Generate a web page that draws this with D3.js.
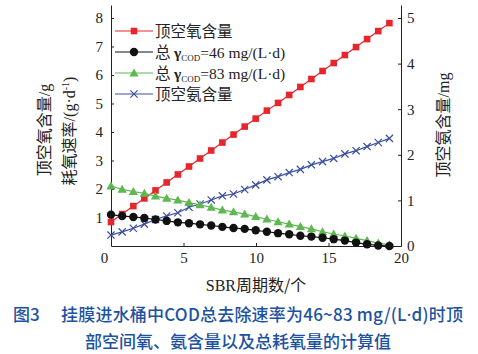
<!DOCTYPE html>
<html lang="zh">
<head>
<meta charset="UTF-8">
<title>SBR</title>
<script src="https://d3js.org/d3.v7.min.js"></script>
<style>
    body { margin: 0; background: #fff; }
    .tick text { font-family: "Liberation Serif", serif; font-size: 15px; fill: #222; }
    .cjk { font-family: "Noto Sans CJK SC", sans-serif; }
    .ser { font-family: "Liberation Serif", serif; }
</style>
</head>
<body>
<svg id="chart" width="478" height="354"></svg>
<script>
    // SBR cycle positions
    const cycles = [0, 0.77, 1.54, 2.30, 3.07, 3.84, 4.61, 5.38, 6.14, 6.91, 7.68, 8.45, 9.22,
        9.98, 10.75, 11.52, 12.29, 13.06, 13.82, 14.59, 15.36, 16.13, 16.90, 17.66, 18.43, 19.20];
    // left axis series (g, g/d)
    const oxygen = [0.84, 1.12, 1.40, 1.67, 1.95, 2.23, 2.51, 2.79, 3.07, 3.35, 3.63, 3.91, 4.19,
        4.47, 4.75, 5.02, 5.30, 5.58, 5.86, 6.14, 6.42, 6.70, 6.98, 7.26, 7.54, 7.82];
    const cod46 = [1.10, 1.05, 1.02, 0.98, 0.93, 0.88, 0.83, 0.80, 0.76, 0.72, 0.67, 0.63, 0.60,
        0.55, 0.50, 0.45, 0.41, 0.36, 0.33, 0.29, 0.24, 0.19, 0.12, 0.06, 0.02, 0.0];
    const cod83 = [2.10, 1.99, 1.91, 1.85, 1.75, 1.67, 1.61, 1.52, 1.44, 1.36, 1.26, 1.20, 1.12,
        1.03, 0.94, 0.85, 0.77, 0.68, 0.60, 0.50, 0.42, 0.35, 0.27, 0.19, 0.10, 0.04];
    // right axis series (mg)
    const ammonia = [0.24, 0.31, 0.39, 0.48, 0.58, 0.66, 0.73, 0.85, 0.92, 1.01, 1.10, 1.14, 1.24,
        1.34, 1.45, 1.52, 1.61, 1.68, 1.78, 1.85, 1.92, 2.02, 2.09, 2.18, 2.27, 2.36];

    const xTicks = [0, 5, 10, 15, 20];
    const yLeftTicks = [1, 2, 3, 4, 5, 6, 7, 8];
    const yRightTicks = [0, 1, 2, 3, 4, 5];

    const svg = d3.select("#chart");
    const mLeft = 111, mRight = 401, mTop = 5, mBottom = 246;

    const x = d3.scaleLinear().domain([0, 20]).range([mLeft, mRight]);
    const yL = d3.scaleLinear().domain([0, 8.456]).range([mBottom, mTop]);
    const yR = d3.scaleLinear().domain([0, 5.285]).range([mBottom, mTop]);

    // axes, ticks pointing inward
    const gx = svg.append("g").attr("transform", `translate(0,${mBottom})`)
        .call(d3.axisBottom(x).tickValues(xTicks).tickFormat(d3.format("d"))
            .tickSizeInner(-3).tickSizeOuter(0).tickPadding(6));
    gx.selectAll(".tick text").filter(d => d === 0).attr("dx", -7);

    svg.append("g").attr("transform", `translate(${mLeft},0)`)
        .call(d3.axisLeft(yL).tickValues(yLeftTicks).tickFormat(d3.format("d"))
            .tickSizeInner(-3).tickSizeOuter(0).tickPadding(8));
    svg.append("g").attr("transform", `translate(${mRight},0)`)
        .call(d3.axisRight(yR).tickValues(yRightTicks).tickFormat(d3.format("d"))
            .tickSizeInner(-3).tickSizeOuter(0).tickPadding(6));
    svg.selectAll(".domain, .tick line").attr("stroke", "#222").attr("stroke-width", 1);

    const series = [
        {vals: oxygen, y: yL, color: "#e6262b", sym: "square"},
        {vals: ammonia, y: yR, color: "#3c4f9e", sym: "cross"},
        {vals: cod83, y: yL, color: "#5cb84f", sym: "triangle"},
        {vals: cod46, y: yL, color: "#111111", sym: "circle"}
    ];

    function marker(g, sym, color) {
        if (sym === "square") g.append("rect").attr("x", -3.3).attr("y", -3.3).attr("width", 6.6).attr("height", 6.6).attr("fill", color);
        if (sym === "circle") g.append("circle").attr("r", 4.2).attr("fill", color);
        if (sym === "triangle") g.append("path").attr("d", "M0,-4.6L4.6,3.4L-4.6,3.4Z").attr("fill", color);
        if (sym === "cross") g.append("path").attr("d", "M-3.6,-3.6L3.6,3.6M-3.6,3.6L3.6,-3.6")
            .attr("stroke", color).attr("stroke-width", 1.2).attr("fill", "none");
    }

    series.forEach(s => {
        const line = d3.line().x((d, i) => x(cycles[i])).y(d => s.y(d));
        svg.append("path").datum(s.vals).attr("d", line)
            .attr("fill", "none").attr("stroke", s.color).attr("stroke-width", 1.2);
        s.vals.forEach((v, i) => {
            const g = svg.append("g").attr("transform", `translate(${x(cycles[i])},${s.y(v)})`);
            marker(g, s.sym, s.color);
        });
    });

    // legend
    const legend = [
        {sym: "square", color: "#e6262b", label: "顶空氧含量"},
        {sym: "circle", color: "#111111", label: "46"},
        {sym: "triangle", color: "#5cb84f", label: "83"},
        {sym: "cross", color: "#3c4f9e", label: "顶空氨含量"}
    ];
    legend.forEach((d, i) => {
        const cy = 31 + i * 21;
        svg.append("line").attr("x1", 115).attr("x2", 153).attr("y1", cy).attr("y2", cy)
            .attr("stroke", d.color).attr("stroke-width", 1.2);
        const g = svg.append("g").attr("transform", `translate(134,${cy})`);
        marker(g, d.sym, d.color);
        const t = svg.append("text").attr("x", 155).attr("y", cy + 6).attr("font-size", 15.5).attr("fill", "#222");
        if (i === 0 || i === 3) {
            t.attr("class", "cjk").text(d.label);
        } else {
            t.append("tspan").attr("class", "cjk").text("总 ");
            t.append("tspan").attr("class", "ser").attr("font-weight", "bold").text("γ");
            t.append("tspan").attr("class", "ser").attr("font-size", 9).attr("dy", 2.5).text("COD");
            t.append("tspan").attr("class", "ser").attr("dy", -2.5).text(`=${d.label} mg/`);
            t.append("tspan").attr("class", "ser").text("(L·d)");
        }
    });

    // axis titles
    const lt = svg.append("text").attr("class", "cjk").attr("font-size", 16).attr("fill", "#222")
        .attr("transform", "translate(50,130) rotate(-90)").attr("text-anchor", "middle");
    lt.append("tspan").text("顶空氧含量");
    lt.append("tspan").attr("class", "ser").text("/g");
    const lt2 = svg.append("text").attr("class", "cjk").attr("font-size", 16).attr("fill", "#222")
        .attr("transform", "translate(75,131) rotate(-90)").attr("text-anchor", "middle");
    lt2.append("tspan").text("耗氧速率");
    lt2.append("tspan").attr("class", "ser").text("/(g·d");
    lt2.append("tspan").attr("class", "ser").attr("font-size", 10).attr("dy", -6).text("-1");
    lt2.append("tspan").attr("class", "ser").attr("dy", 6).text(")");

    const rt = svg.append("text").attr("class", "cjk").attr("font-size", 16).attr("fill", "#222")
        .attr("transform", "translate(449,125) rotate(-90)").attr("text-anchor", "middle");
    rt.append("tspan").text("顶空氨含量");
    rt.append("tspan").attr("class", "ser").text("/mg");

    const xt = svg.append("text").attr("font-size", 16).attr("fill", "#222")
        .attr("x", 256).attr("y", 291).attr("text-anchor", "middle");
    xt.append("tspan").attr("class", "ser").text("SBR");
    xt.append("tspan").attr("class", "cjk").text("周期数/个");

    // caption
    const capColor = "#1d52a0";
    svg.append("text").attr("class", "cjk").attr("x", 13).attr("y", 321).attr("font-size", 17)
        .attr("font-weight", 500).attr("fill", capColor).text("图3");
    const cap1 = svg.append("text").attr("class", "cjk").attr("x", 61).attr("y", 321).attr("font-size", 17)
        .attr("font-weight", 500).attr("fill", capColor)
        .attr("textLength", 402).attr("lengthAdjust", "spacing");
    cap1.append("tspan").text("挂膜进水桶中COD总去除速率为46~83 mg/(L");
    cap1.append("tspan").attr("font-family", "Noto Sans").text("·");
    cap1.append("tspan").text("d)时顶");
    svg.append("text").attr("class", "cjk").attr("x", 238).attr("y", 348).attr("font-size", 17)
        .attr("font-weight", 500).attr("fill", capColor).attr("text-anchor", "middle")
        .text("部空间氧、氨含量以及总耗氧量的计算值");
</script>
</body>
</html>
